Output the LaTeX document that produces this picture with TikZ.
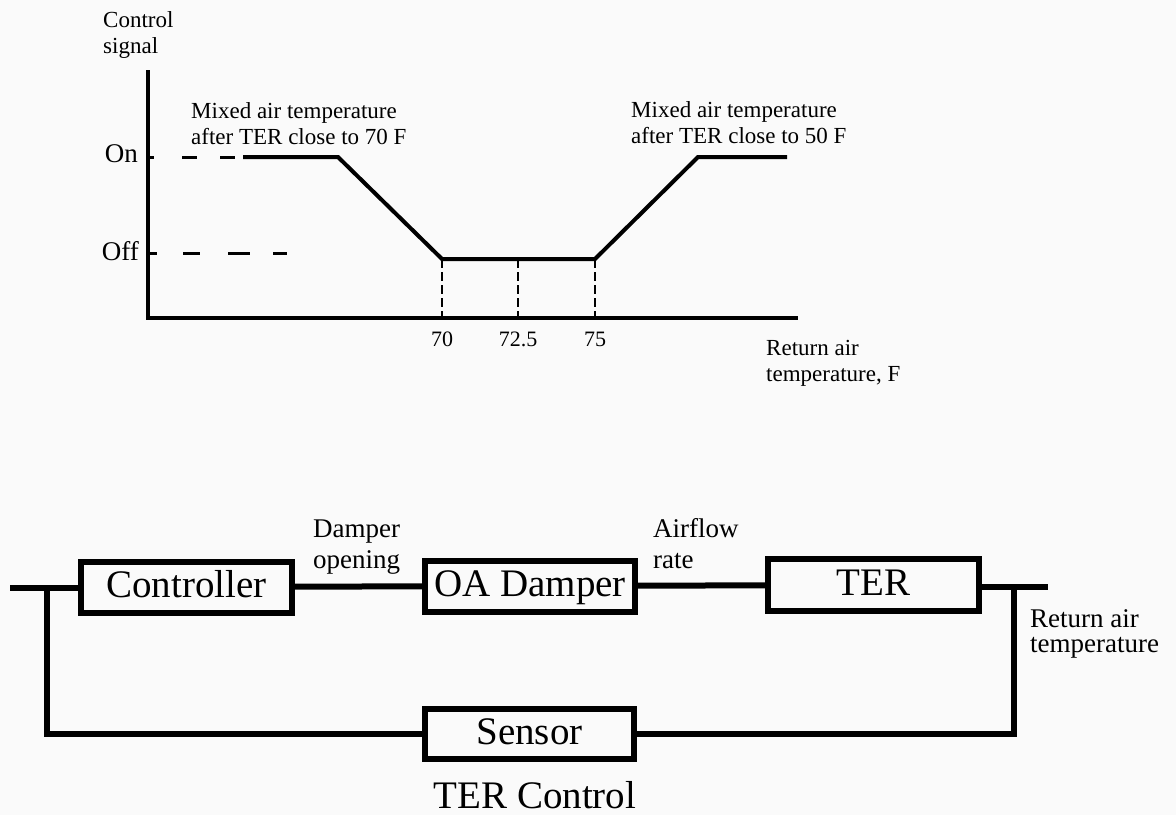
\documentclass[tikz,border=0pt]{standalone}
\usepackage{fontspec}
\setmainfont{Liberation Serif}
\definecolor{paper}{RGB}{250,250,250}
% a left-aligned block of two lines whose baseline is the first line
\newcommand{\twolines}[2]{\begin{tabular}[t]{@{}l@{}}#1\\#2\end{tabular}}
\begin{document}
\begin{tikzpicture}[x=1pt,y=-1pt,
  axisline/.style={line width=4pt,line join=miter},
  curve/.style={line width=4pt,line join=miter},
  guide/.style={line width=3pt},
  drop/.style={line width=2.5pt,dash pattern=on 9pt off 4pt},
  small/.style={inner sep=0pt,font=\fontsize{23}{26.5}\selectfont},
  level/.style={inner sep=0pt,font=\fontsize{27}{31}\selectfont},
  tick/.style={inner sep=0pt,font=\fontsize{22}{26}\selectfont},
  note/.style={inner sep=0pt,font=\fontsize{27}{31}\selectfont},
  blockbox/.style={draw,line width=6pt,inner sep=0pt,minimum width=210pt,
    minimum height=51pt,text height=26pt,text depth=6pt,
    font=\fontsize{39}{44}\selectfont},
  wire/.style={line width=6pt,line join=miter},
  title/.style={inner sep=0pt,font=\fontsize{39}{44}\selectfont}]
\fill[paper] (0,0) rectangle (1176,815);
\useasboundingbox (0,0) rectangle (1176,815);

% ---------- control curve ----------
\coordinate (top) at (148,70);
\coordinate (origin) at (148,318);
\coordinate (xend) at (798,318);
\draw[axisline] (top) -- (origin) -- (xend);

% dashed level guides
\coordinate (onA) at (148,157);
\coordinate (onB) at (154,157);
\draw[guide] (onA) -- (onB);
\draw[guide] (182,157) -- (197,157);
\draw[guide] (220,157) -- (235,157);
\coordinate (offA) at (148,253);
\coordinate (offB) at (157,253);
\draw[guide] (offA) -- (offB);
\draw[guide] (183,253) -- (200,253);
\draw[guide] (228,253) -- (250,253);
\draw[guide] (273,253) -- (287,253);

\coordinate (onStart) at (243,157);
\coordinate (onKnee) at (338,157);
\coordinate (lowLeft) at (442,259);
\coordinate (lowMid) at (518,259);
\coordinate (lowRight) at (595,259);
\coordinate (highKnee) at (698,157);
\coordinate (highEnd) at (787,157);
\draw[curve] (onStart) -- (onKnee) -- (lowLeft) -- (lowRight) -- (highKnee) -- (highEnd);

\draw[drop] (lowLeft) -- (lowLeft |- origin);
\draw[drop] (lowMid) -- (lowMid |- origin);
\draw[drop] (lowRight) -- (lowRight |- origin);

\node[tick,anchor=base] (t70) at (442,346) {70};
\node[tick,anchor=base] (t725) at (518,346) {72.5};
\node[tick,anchor=base] (t75) at (595,346) {75};

\node[level,anchor=base east] (on) at (138,162) {On};
\node[level,anchor=base east] (off) at (139,260) {Off};

\node[small,anchor=base west] (ylabel) at (103,27) {\twolines{Control}{signal}};
\node[small,anchor=base west] (xlabel) at (766,355) {\twolines{Return air}{temperature, F}};
\node[small,anchor=base west] (warm) at (191,118) {\twolines{Mixed air temperature}{after TER close to 70 F}};
\node[small,anchor=base west] (cool) at (631,117) {\twolines{Mixed air temperature}{after TER close to 50 F}};

% ---------- control loop ----------
\node[blockbox,minimum width=211pt] (ctrl) at (186.5,587) {Controller};
\node[blockbox] (oa) at (530,586) {OA Damper};
\node[blockbox,minimum width=211pt,minimum height=52pt] (ter) at (873.5,585) {TER};
\node[blockbox,minimum width=209pt,minimum height=50pt] (sensor) at (529.5,734) {Sensor};

\coordinate (inL) at (10,588);
\coordinate (jL) at (47,588);
\coordinate (jR) at (1014,587);
\coordinate (outR) at (1048,587);

\draw[wire] (inL) -- (ctrl.west |- inL);
\draw[wire] (ctrl) -- (oa);
\draw[wire] (oa) -- (ter);
\draw[wire] (ter.east |- outR) -- (outR);
\draw[wire] (jL) |- (sensor.west);
\draw[wire] (sensor.east) -| (jR);

\node[note,anchor=base west] (dlabel) at (313,537) {\twolines{Damper}{opening}};
\node[note,anchor=base west] (alabel) at (653,537) {\twolines{Airflow}{rate}};
\node[note,anchor=base west,font=\fontsize{27}{25.5}\selectfont] (rlabel) at (1030,627) {\twolines{Return air}{temperature}};

\node[title,anchor=base] (caption) at (535,808) {TER Control};
\end{tikzpicture}
\end{document}
